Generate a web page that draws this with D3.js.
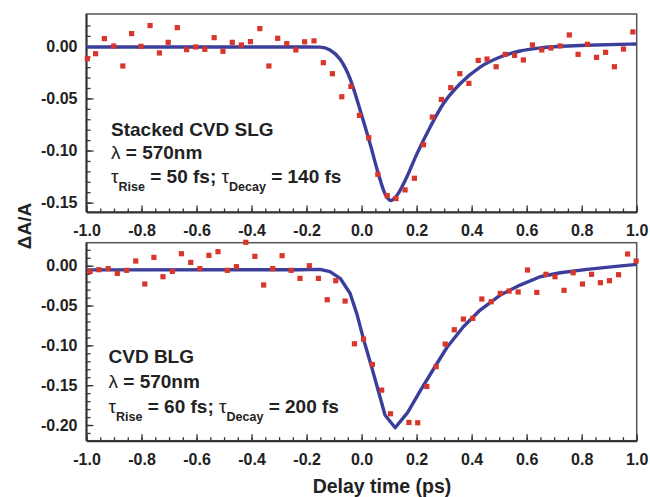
<!DOCTYPE html>
<html>
<head>
<meta charset="utf-8">
<script src="https://cdnjs.cloudflare.com/ajax/libs/d3/7.8.5/d3.min.js"></script>
<style>
  body { margin: 0; background: #fff; }
  svg { font-family: "Liberation Sans", Arial, sans-serif; font-weight: bold; }
  .axis text { font-size: 16px; fill: #222; font-family: "Liberation Sans", Arial, sans-serif; }
  .axis line { stroke: #333; stroke-width: 1.3; }
  .axis path { stroke: #333; stroke-width: 2; }
</style>
</head>
<body>
<script>
// measured points (ps, dA/A)
const topTime = [-0.997, -0.967, -0.935, -0.901, -0.868, -0.836, -0.802, -0.769, -0.735, -0.703,
  -0.670, -0.636, -0.603, -0.570, -0.536, -0.504, -0.470, -0.437, -0.404, -0.370,
  -0.337, -0.305, -0.272, -0.239, -0.207, -0.173, -0.139, -0.106, -0.072, -0.039,
  -0.008, 0.026, 0.059, 0.093, 0.125, 0.158, 0.192, 0.225, 0.257, 0.290,
  0.324, 0.357, 0.390, 0.424, 0.456, 0.489, 0.522, 0.556, 0.588, 0.621,
  0.655, 0.688, 0.722, 0.755, 0.787, 0.821, 0.854, 0.887, 0.919, 0.952, 0.986];
const topSignal = [-0.0119, -0.0071, 0.0074, 0.0003, -0.0189, 0.0122, 0.0000, 0.0199, -0.0064, 0.0038,
  0.0179, -0.0032, -0.0006, -0.0029, 0.0083, -0.0048, 0.0038, 0.0013, 0.0045, 0.0170,
  -0.0189, 0.0077, 0.0026, -0.0035, 0.0043, 0.0052, -0.0157, -0.0263, -0.0484, -0.0385,
  -0.0663, -0.0878, -0.1228, -0.1433, -0.1461, -0.1378, -0.1266, -0.0945, -0.0679, -0.0510,
  -0.0397, -0.0263, -0.0356, -0.0135, -0.0122, -0.0196, -0.0077, -0.0087, -0.0131, 0.0013,
  -0.0035, -0.0016, 0.0003, 0.0109, -0.0077, 0.0019, -0.0106, -0.0058, -0.0196, -0.0026, 0.0138];

const botTime = [-0.987, -0.955, -0.921, -0.888, -0.854, -0.821, -0.788, -0.755, -0.722, -0.688,
  -0.655, -0.621, -0.588, -0.555, -0.522, -0.488, -0.455, -0.421, -0.388, -0.356,
  -0.323, -0.289, -0.256, -0.224, -0.190, -0.157, -0.125, -0.094, -0.060, -0.026,
  0.007, 0.039, 0.073, 0.105, 0.172, 0.204, 0.237, 0.271, 0.304, 0.337,
  0.370, 0.404, 0.437, 0.471, 0.504, 0.536, 0.569, 0.603, 0.637, 0.670,
  0.703, 0.736, 0.769, 0.803, 0.836, 0.868, 0.901, 0.934, 0.967, 0.998];
const botSignal = [-0.0071, -0.0050, -0.0037, -0.0096, -0.0058, 0.0059, -0.0230, 0.0105, -0.0138, -0.0071,
  0.0151, 0.0042, -0.0037, 0.0130, 0.0176, -0.0058, -0.0012, 0.0294, 0.0118, -0.0242,
  -0.0037, 0.0126, -0.0058, -0.0159, 0.0000, -0.0159, -0.0427, -0.0188, -0.0444, -0.0980,
  -0.0921, -0.1240, -0.1562, -0.1859, -0.1968, -0.1972, -0.1516, -0.1268, -0.0984, -0.0804,
  -0.0670, -0.0661, -0.0418, -0.0452, -0.0347, -0.0318, -0.0330, -0.0054, -0.0335, -0.0108,
  -0.0138, -0.0309, -0.0088, -0.0230, -0.0108, -0.0213, -0.0188, -0.0113, 0.0147, 0.0059];

// fitted curves
const topFitTime = [-1.0, -0.30, -0.20, -0.151, -0.115, -0.078, -0.042, -0.005, 0.031, 0.061,
  0.085, 0.106, 0.128, 0.164, 0.201, 0.249, 0.297, 0.358, 0.431, 0.504,
  0.576, 0.649, 0.722, 0.819, 1.0];
const topFitValue = [-0.0006, -0.0006, -0.0006, -0.0008, -0.0035, -0.0125, -0.0310, -0.0615, -0.0936, -0.1224,
  -0.1416, -0.1480, -0.1432, -0.1256, -0.1032, -0.0776, -0.0551, -0.0359, -0.0199, -0.0103,
  -0.0045, -0.0016, 0.0000, 0.0010, 0.0022];

const botFitTime = [-1.0, -0.224, -0.151, -0.115, -0.078, -0.042, -0.017, 0.007, 0.037, 0.064,
  0.085, 0.122, 0.167, 0.213, 0.261, 0.310, 0.370, 0.431, 0.504, 0.576,
  0.649, 0.722, 0.819, 0.916, 1.0];
const botFitValue = [-0.0052, -0.0050, -0.0046, -0.0075, -0.0158, -0.0345, -0.0608, -0.0922, -0.1278, -0.1610,
  -0.1875, -0.2035, -0.1845, -0.1572, -0.1300, -0.1027, -0.0766, -0.0557, -0.0368, -0.0243,
  -0.0138, -0.0088, -0.0046, -0.0012, 0.0017];

const xTicks = [-1.0, -0.8, -0.6, -0.4, -0.2, 0.0, 0.2, 0.4, 0.6, 0.8, 1.0];
const topYTicks = [0.00, -0.05, -0.10, -0.15];
const botYTicks = [0.00, -0.05, -0.10, -0.15, -0.20];

const width = 650, height = 497;
const left = 86.5, right = 636.7;

const svg = d3.select("body").append("svg")
    .attr("width", width)
    .attr("height", height);

const x = d3.scaleLinear().domain([-1, 1]).range([left, right]);

const panels = [
  { time: topTime, signal: topSignal, fitT: topFitTime, fitV: topFitValue, yTicks: topYTicks,
    domain: [-0.159, 0.031], top: 14, bottom: 212, curve: d3.curveMonotoneX,
    label: ["Stacked CVD SLG", "\u03bb = 570nm"], tau: ["50", "140"], tx: 111, ty: [136, 159.3, 183.3] },
  { time: botTime, signal: botSignal, fitT: botFitTime, fitV: botFitValue, yTicks: botYTicks,
    domain: [-0.2197, 0.0289], top: 242.7, bottom: 440.7, curve: d3.curveLinear,
    label: ["CVD BLG", "\u03bb = 570nm"], tau: ["60", "200"], tx: 108.5, ty: [363.3, 388.3, 412.7] }
];

panels.forEach(p => {
  const y = d3.scaleLinear().domain(p.domain).range([p.bottom, p.top]);
  const g = svg.append("g");

  // frame
  g.append("rect")
      .attr("x", left)
      .attr("y", p.top)
      .attr("width", right - left)
      .attr("height", p.bottom - p.top)
      .attr("fill", "#fff")
      .attr("stroke", "#555")
      .attr("stroke-width", 1.5);

  // minor ticks
  g.append("g")
      .attr("class", "axis")
      .attr("transform", "translate(0," + p.bottom + ")")
      .call(d3.axisBottom(x).tickValues(d3.range(-20, 21).map(i => i * 0.05)).tickSize(-3.5).tickFormat(""))
      .call(a => a.select(".domain").remove());
  g.append("g")
      .attr("class", "axis")
      .attr("transform", "translate(" + left + ",0)")
      .call(d3.axisLeft(y).tickValues(d3.range(Math.ceil(p.domain[0] * 100), 3).map(i => i / 100)).tickSize(-4).tickFormat(""))
      .call(a => a.select(".domain").remove());

  // major ticks + labels
  g.append("g")
      .attr("class", "axis")
      .attr("transform", "translate(0," + p.bottom + ")")
      .call(d3.axisBottom(x).tickValues(xTicks).tickSize(-6.5).tickPadding(13).tickFormat(d3.format(".1f")).tickSizeOuter(0))
      .call(a => a.selectAll("text").text(d => d3.format(".1f")(d).replace("\u2212", "-")));
  g.append("g")
      .attr("class", "axis")
      .attr("transform", "translate(" + left + ",0)")
      .call(d3.axisLeft(y).tickValues(p.yTicks).tickSize(-7).tickPadding(9).tickSizeOuter(0))
      .call(a => a.selectAll("text").text(d => d3.format(".2f")(d).replace("\u2212", "-")))
      .call(a => a.select(".domain").attr("d", "M0," + p.top + "V" + p.bottom));

  // fit curve
  const line = d3.line()
      .x(d => x(d[0]))
      .y(d => y(d[1]))
      .curve(p.curve);
  g.append("path")
      .datum(p.fitT.map((t, i) => [t, p.fitV[i]]))
      .attr("d", line)
      .attr("fill", "none")
      .attr("stroke", "#3b3f9b")
      .attr("stroke-width", 3.4)
      .attr("stroke-linejoin", "round");

  // data points
  g.selectAll(".pt")
      .data(p.time.map((t, i) => [t, p.signal[i]]))
      .enter().append("rect")
      .attr("class", "pt")
      .attr("x", d => x(d[0]) - 2.6)
      .attr("y", d => y(d[1]) - 2.6)
      .attr("width", 5.2)
      .attr("height", 5.2)
      .attr("fill", "#d8352b");

  // annotation
  g.append("text")
      .attr("x", p.tx).attr("y", p.ty[0])
      .attr("font-size", 19).attr("fill", "#222")
      .text(p.label[0]);
  const lam = g.append("text")
      .attr("x", p.tx).attr("y", p.ty[1])
      .attr("font-size", 19).attr("fill", "#222");
  lam.append("tspan").attr("font-weight", "normal").text("\u03bb");
  lam.append("tspan").text(" = 570nm");

  const tau = g.append("text")
      .attr("x", p.tx).attr("y", p.ty[2])
      .attr("font-size", 19).attr("fill", "#222");
  tau.append("tspan").attr("font-weight", "normal").text("\u03c4");
  tau.append("tspan").attr("font-size", 12.5).attr("dy", 8).text("Rise");
  tau.append("tspan").attr("dy", -8).text(" = " + p.tau[0] + " fs; ");
  tau.append("tspan").attr("font-weight", "normal").text("\u03c4");
  tau.append("tspan").attr("font-size", 12.5).attr("dy", 8).text("Decay");
  tau.append("tspan").attr("dy", -8).text(" = " + p.tau[1] + " fs");
});

// axis titles
svg.append("text")
    .attr("transform", "translate(31,226) rotate(-90)")
    .attr("text-anchor", "middle")
    .attr("font-size", 19)
    .attr("fill", "#222")
    .text("\u0394A/A");

svg.append("text")
    .attr("x", 382)
    .attr("y", 493)
    .attr("text-anchor", "middle")
    .attr("font-size", 19.5)
    .attr("fill", "#222")
    .text("Delay time (ps)");
</script>
</body>
</html>
